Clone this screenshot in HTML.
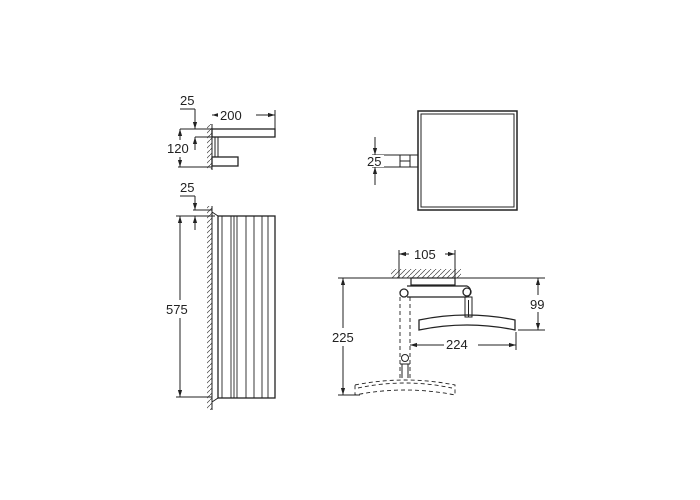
<html><body style="margin:0;background:#fff">
<svg width="700" height="500" viewBox="0 0 700 500" xmlns="http://www.w3.org/2000/svg" font-family="Liberation Sans, sans-serif" font-size="13" fill="none" stroke="#222" stroke-width="1">
<defs><marker id="a" viewBox="0 0 10 10" refX="10" refY="5" markerWidth="7" markerHeight="7" orient="auto-start-reverse"><path d="M0,2 L10,5 L0,8z" fill="#222" stroke="none"/></marker>
<pattern id="h" width="5" height="5" patternUnits="userSpaceOnUse"><path d="M0,5 L5,0" stroke="#444" stroke-width="0.7"/></pattern></defs>
<rect x="207" y="124" width="5" height="45" fill="url(#h)" stroke="none"/>
<line x1="212" y1="124" x2="212" y2="170"/>
<rect x="212" y="129" width="63" height="8" stroke-width="1.3"/>
<rect x="212" y="157" width="26" height="9" stroke-width="1.3"/>
<line x1="215" y1="137" x2="215" y2="157"/><line x1="218" y1="137" x2="218" y2="157"/>
<line x1="212" y1="115" x2="275" y2="115" marker-start="url(#a)" marker-end="url(#a)"/>
<line x1="275" y1="110" x2="275" y2="129"/>
<rect x="218" y="108" width="38" height="14" fill="#fff" stroke="none"/>
<text x="220" y="120" fill="#222" stroke="none">200</text>
<text x="180" y="105" fill="#222" stroke="none">25</text>
<line x1="180" y1="109" x2="195" y2="109"/>
<line x1="195" y1="109" x2="195" y2="129" marker-end="url(#a)"/>
<line x1="180" y1="129" x2="212" y2="129"/><line x1="195" y1="137" x2="212" y2="137"/>
<line x1="195" y1="150" x2="195" y2="137" marker-end="url(#a)"/>
<line x1="178" y1="167" x2="212" y2="167"/>
<line x1="180" y1="140" x2="180" y2="129" marker-end="url(#a)"/>
<line x1="180" y1="157" x2="180" y2="167" marker-end="url(#a)"/>
<text x="167" y="153" fill="#222" stroke="none">120</text>
<rect x="207" y="206" width="5" height="204" fill="url(#h)" stroke="none"/>
<line x1="212" y1="206" x2="212" y2="410"/>
<rect x="218" y="216" width="57" height="182" stroke-width="1.3"/>
<path d="M212,212 L218,216 M212,402 L218,398"/>
<g stroke-width="0.9"><line x1="222" y1="216" x2="222" y2="398"/><line x1="231" y1="216" x2="231" y2="398"/><line x1="234" y1="216" x2="234" y2="398"/><line x1="237" y1="216" x2="237" y2="398"/><line x1="246" y1="216" x2="246" y2="398"/><line x1="254" y1="216" x2="254" y2="398"/><line x1="262" y1="216" x2="262" y2="398"/><line x1="268" y1="216" x2="268" y2="398"/></g>
<text x="180" y="192" fill="#222" stroke="none">25</text>
<line x1="180" y1="196" x2="195" y2="196"/>
<line x1="195" y1="196" x2="195" y2="210" marker-end="url(#a)"/>
<line x1="193" y1="210" x2="212" y2="210"/><line x1="176" y1="216" x2="215" y2="216"/>
<line x1="195" y1="230" x2="195" y2="216" marker-end="url(#a)"/>
<line x1="176" y1="397" x2="212" y2="397"/>
<line x1="180" y1="300" x2="180" y2="216" marker-end="url(#a)"/>
<line x1="180" y1="318" x2="180" y2="397" marker-end="url(#a)"/>
<text x="166" y="314" fill="#222" stroke="none">575</text>
<rect x="418" y="111" width="99" height="99" stroke-width="1.5"/>
<rect x="421" y="114" width="93" height="93"/>
<rect x="400" y="155" width="18" height="12"/>
<line x1="400" y1="161" x2="410" y2="161"/><line x1="410" y1="155" x2="410" y2="167"/>
<line x1="372" y1="155" x2="400" y2="155"/><line x1="372" y1="167" x2="400" y2="167"/>
<line x1="375" y1="137" x2="375" y2="155" marker-end="url(#a)"/>
<line x1="375" y1="185" x2="375" y2="167" marker-end="url(#a)"/>
<rect x="367" y="155" width="17" height="12" fill="#fff" stroke="none"/>
<text x="367" y="166" fill="#222" stroke="none">25</text>
<rect x="391" y="269" width="70" height="9" fill="url(#h)" stroke="none"/>
<line x1="338" y1="278" x2="545" y2="278"/>
<line x1="399" y1="250" x2="399" y2="278"/><line x1="455" y1="250" x2="455" y2="278"/>
<line x1="399" y1="254" x2="455" y2="254" marker-start="url(#a)" marker-end="url(#a)"/>
<rect x="409" y="248" width="36" height="13" fill="#fff" stroke="none"/>
<text x="414" y="259" fill="#222" stroke="none">105</text>
<rect x="411" y="278" width="44" height="7" stroke-width="1.2"/>
<path d="M407,286 L467,286 A6,6 0 0 1 467,297 L407,297" stroke-width="1.2"/>
<circle cx="404" cy="293" r="4" stroke-width="1.3"/>
<circle cx="467" cy="292" r="4" stroke-width="1.3"/>
<rect x="465" y="297" width="7" height="20"/><line x1="468.5" y1="300" x2="468.5" y2="317"/>
<path d="M419,320 Q467,310 515,320 L515,330 Q467,320 419,330 Z" stroke-width="1.3"/>
<line x1="518" y1="330" x2="545" y2="330"/>
<line x1="538" y1="295" x2="538" y2="278" marker-end="url(#a)"/>
<line x1="538" y1="312" x2="538" y2="330" marker-end="url(#a)"/>
<text x="530" y="309" fill="#222" stroke="none">99</text>
<line x1="516" y1="332" x2="516" y2="350"/>
<line x1="410" y1="345" x2="516" y2="345" marker-start="url(#a)" marker-end="url(#a)"/>
<rect x="444" y="338" width="34" height="13" fill="#fff" stroke="none"/>
<text x="446" y="349" fill="#222" stroke="none">224</text>
<line x1="343" y1="328" x2="343" y2="278" marker-end="url(#a)"/>
<line x1="343" y1="346" x2="343" y2="395" marker-end="url(#a)"/>
<line x1="338" y1="395" x2="360" y2="395"/>
<text x="332" y="342" fill="#222" stroke="none">225</text>
<g stroke-dasharray="4,3" stroke-width="0.9">
<line x1="400" y1="297" x2="400" y2="380"/><line x1="410" y1="297" x2="410" y2="380"/>
<path d="M355,385 Q405,375 455,385 L455,395 Q405,385 355,395 Z"/>
<path d="M358,388 Q405,378 452,388"/>
</g>
<circle cx="405" cy="358" r="3.5"/>
<path d="M402,364 L402,378 M408,364 L408,378 M400,364 L410,364"/>
</svg>
</body></html>
